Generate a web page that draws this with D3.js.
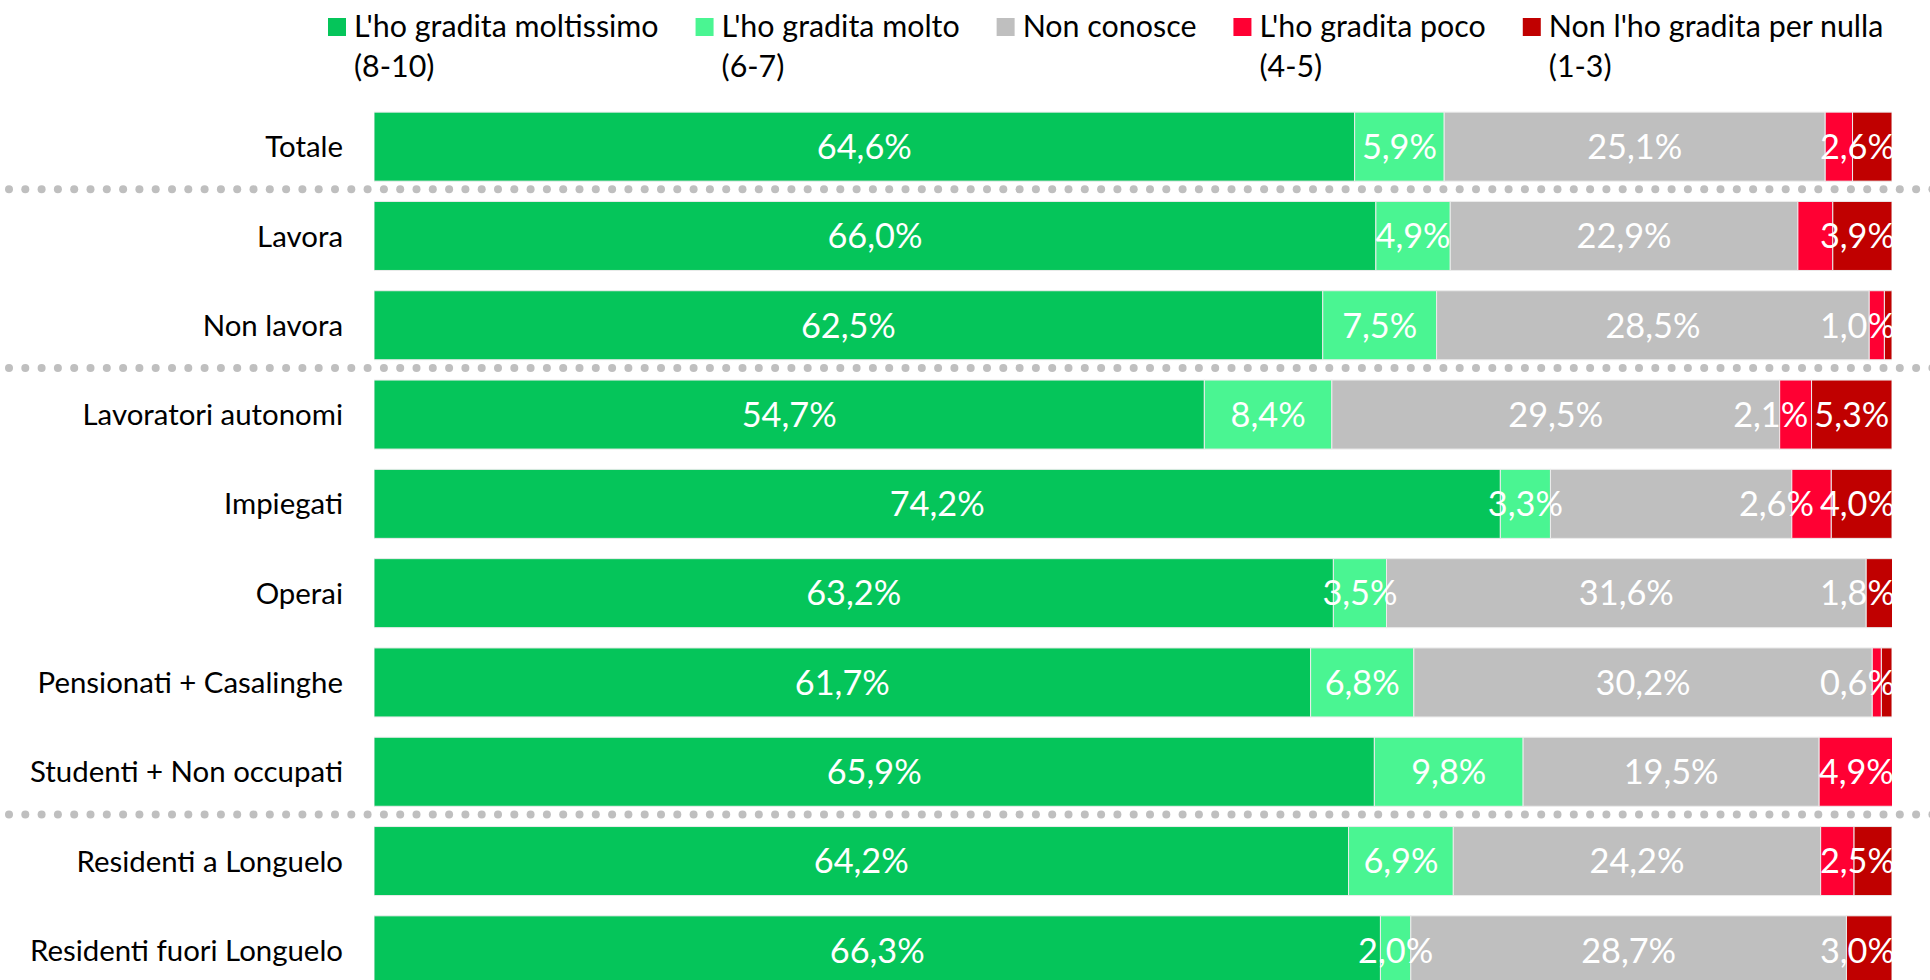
<!DOCTYPE html>
<html>
<head>
<meta charset="utf-8">
<script src="https://cdn.jsdelivr.net/npm/d3@7"></script>
<style>
  body { margin: 0; background: #fff; }
  #graph { width: 1930px; height: 980px; overflow: hidden; }
</style>
</head>
<body>
<div id="graph"></div>
<script>
// categories (rows) and series values, in percent
const categories = [
  "Totale",
  "Lavora",
  "Non lavora",
  "Lavoratori autonomi",
  "Impiegati",
  "Operai",
  "Pensionati + Casalinghe",
  "Studenti + Non occupati",
  "Residenti a Longuelo",
  "Residenti fuori Longuelo",
];
const moltissimo = [64.6, 66.0, 62.5, 54.7, 74.2, 63.2, 61.7, 65.9, 64.2, 66.3];
const molto = [5.9, 4.9, 7.5, 8.4, 3.3, 3.5, 6.8, 9.8, 6.9, 2.0];
const nonConosce = [25.1, 22.9, 28.5, 29.5, 15.9, 31.6, 30.2, 19.5, 24.2, 28.7];
const poco = [1.8, 2.3, 1.0, 2.1, 2.6, 0, 0.6, 4.9, 2.2, 0];
const perNulla = [2.6, 3.9, 0.5, 5.3, 4.0, 1.8, 0.7, 0, 2.5, 3.0];

const seriesNames = [
  ["L'ho gradita moltissimo", "(8-10)"],
  ["L'ho gradita molto", "(6-7)"],
  ["Non conosce"],
  ["L'ho gradita poco", "(4-5)"],
  ["Non l'ho gradita per nulla", "(1-3)"],
];
const colors = ["#05c55a", "#4af592", "#bfbfbf", "#ff0033", "#c00000"];
const xTicks = [0, 100];

// labels that are not shown in the chart: [row, series]
const hiddenLabels = [[0, 3], [1, 3], [2, 4], [4, 2], [6, 4], [8, 3]];
// dotted separator drawn below these rows
const groupEnds = ["Totale", "Non lavora", "Studenti + Non occupati"];

const allSeries = [moltissimo, molto, nonConosce, poco, perNulla];

const width = 1930,
  height = 980;
const margin = { left: 374, right: 38 };
const fontFamily = "Lato, 'Noto Sans', sans-serif";

const svg = d3
  .select("#graph")
  .append("svg")
  .attr("width", width)
  .attr("height", height)
  .style("font-family", fontFamily);

const x = d3
  .scaleLinear()
  .domain(d3.extent(xTicks))
  .range([margin.left, width - margin.right]);

const y = d3
  .scaleBand()
  .domain(categories)
  .range([102, 995])
  .paddingInner(0.227)
  .paddingOuter(0.1135);

// clip everything to the plot area, like the original
svg
  .append("clipPath")
  .attr("id", "plot-clip")
  .append("rect")
  .attr("x", x(0))
  .attr("y", 0)
  .attr("width", x(100) - x(0))
  .attr("height", height);

// build stacked rows
const rows = categories.map((cat, i) => {
  let acc = 0;
  const segs = allSeries.map((s, k) => {
    const seg = { cat, row: i, k, value: s[i], x0: acc, x1: acc + s[i] };
    acc += s[i];
    return seg;
  });
  return segs;
});
const segments = rows.flat();

const plot = svg.append("g").attr("clip-path", "url(#plot-clip)");

plot
  .append("g")
  .selectAll("rect")
  .data(segments.filter((d) => d.value > 0))
  .enter()
  .append("rect")
  .attr("x", (d) => x(d.x0))
  .attr("y", (d) => y(d.cat))
  .attr("width", (d) => x(d.x1) - x(d.x0))
  .attr("height", y.bandwidth())
  .attr("fill", (d) => colors[d.k])
  .attr("stroke", "#ececec")
  .attr("stroke-width", 1);

// y axis labels
svg
  .append("g")
  .selectAll("text")
  .data(categories)
  .enter()
  .append("text")
  .attr("x", margin.left - 31)
  .attr("y", (d) => y(d) + y.bandwidth() / 2)
  .attr("dy", "0.36em")
  .attr("text-anchor", "end")
  .attr("font-size", 29.4)
  .attr("fill", "#000")
  .text((d) => d);

// data labels, pushed left when they would run into the next label or the edge
const fmt = (v) => v.toFixed(1).replace(".", ",") + "%";
const isHidden = (d) => hiddenLabels.some((h) => h[0] === d.row && h[1] === d.k);
const labelLayer = plot.append("g");

rows.forEach((segs) => {
  let limit = x(100) + 3;
  segs
    .filter((d) => d.value > 0 && !isHidden(d))
    .reverse()
    .forEach((d) => {
      const t = labelLayer
        .append("text")
        .attr("y", y(d.cat) + y.bandwidth() / 2)
        .attr("dy", "0.36em")
        .attr("text-anchor", "middle")
        .attr("font-size", 34.3)
        .attr("fill", "#fff")
        .text(fmt(d.value));
      const w = t.node().getComputedTextLength();
      let cx = (x(d.x0) + x(d.x1)) / 2;
      if (cx + w / 2 > limit) cx = limit - w / 2;
      t.attr("x", cx);
      limit = cx - w / 2 - 6;
    });
});

// dotted separators between groups
groupEnds.forEach((cat) => {
  const i = categories.indexOf(cat);
  const yy = (y(cat) + y.bandwidth() + y(categories[i + 1])) / 2 - 2;
  svg
    .append("g")
    .selectAll("circle")
    .data(d3.range(9, width + 8, 16.3))
    .enter()
    .append("circle")
    .attr("cx", (d) => d)
    .attr("cy", yy)
    .attr("r", 4)
    .attr("fill", "#bfbfbf");
});

// legend
const legend = svg.append("g");
let lx = 328;
seriesNames.forEach((lines, k) => {
  const item = legend.append("g").attr("transform", `translate(${lx},0)`);
  item
    .append("rect")
    .attr("x", 0)
    .attr("y", 18)
    .attr("width", 18)
    .attr("height", 18)
    .attr("fill", colors[k]);
  const txt = item
    .append("text")
    .attr("x", 26)
    .attr("font-size", 30.4)
    .attr("fill", "#000");
  lines.forEach((line, j) => {
    txt
      .append("tspan")
      .attr("x", 26)
      .attr("y", 37 + j * 40)
      .text(line);
  });
  const w = d3.max(txt.selectAll("tspan").nodes(), (n) => n.getComputedTextLength());
  lx += 26 + w + 37;
});
</script>
</body>
</html>
